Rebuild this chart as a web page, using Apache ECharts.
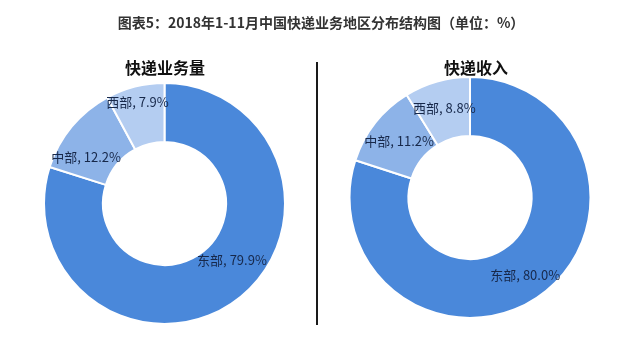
<!DOCTYPE html>
<html><head><meta charset="utf-8">
<script src="https://cdn.jsdelivr.net/npm/echarts@6/dist/echarts.min.js"></script>
<style>html,body{margin:0;padding:0;background:#fff}#c{width:631px;height:339px}</style>
</head><body><div id="c"></div>
<script>
const mainTitle = '图表5：2018年1-11月中国快递业务地区分布结构图（单位：%）';
const regions = ['东部', '中部', '西部'];
const volumeTitle = '快递业务量';
const volumeValues = [79.9, 12.2, 7.9];
const revenueTitle = '快递收入';
const revenueValues = [80.0, 11.2, 8.8];

const colors = ['#4a88da', '#8db3e8', '#b4cdf1'];
const FONT = '"Noto Sans CJK SC", "Noto Sans", sans-serif';
const leftShift = [[12, -19], [-6, 13], [-4, -10]];
const rightShift = [[0, 2], [3, 2], [0, 1]];

function mkSeries(vals, center, shift) {
  return {
    type: 'pie',
    center: center,
    radius: [61.5, 120.5],
    startAngle: 90,
    clockwise: true,
    animation: false,
    silent: true,
    data: regions.map((n, i) => ({ name: n, value: vals[i], itemStyle: { color: colors[i] } })),
    itemStyle: { borderColor: '#fff', borderWidth: 2 },
    label: {
      show: true, position: 'inside',
      formatter: p => p.name + ', ' + p.value.toFixed(1) + '%',
      color: '#17284a', fontSize: 13, fontFamily: FONT
    },
    labelLayout: p => ({ dx: shift[p.dataIndex][0], dy: shift[p.dataIndex][1] }),
    labelLine: { show: false }
  };
}

const chart = echarts.init(document.getElementById('c'), null, { renderer: 'canvas' });
chart.setOption({
  backgroundColor: '#fff',
  animation: false,
  title: [
    { text: mainTitle, left: 316, top: 11, textAlign: 'center',
      textStyle: { fontSize: 14, fontWeight: 'bold', color: '#333', fontFamily: FONT } },
    { text: volumeTitle, left: 160, top: 55, textAlign: 'center',
      textStyle: { fontSize: 16, fontWeight: 'bold', color: '#111', fontFamily: FONT } },
    { text: revenueTitle, left: 471, top: 55, textAlign: 'center',
      textStyle: { fontSize: 16, fontWeight: 'bold', color: '#111', fontFamily: FONT } }
  ],
  graphic: [
    { type: 'line', shape: { x1: 317, y1: 62, x2: 317, y2: 325 }, style: { stroke: '#1a1a1a', lineWidth: 2 } }
  ],
  series: [
    mkSeries(volumeValues, [164.5, 203.5], leftShift),
    mkSeries(revenueValues, [470, 197.5], rightShift)
  ]
});
</script></body></html>
